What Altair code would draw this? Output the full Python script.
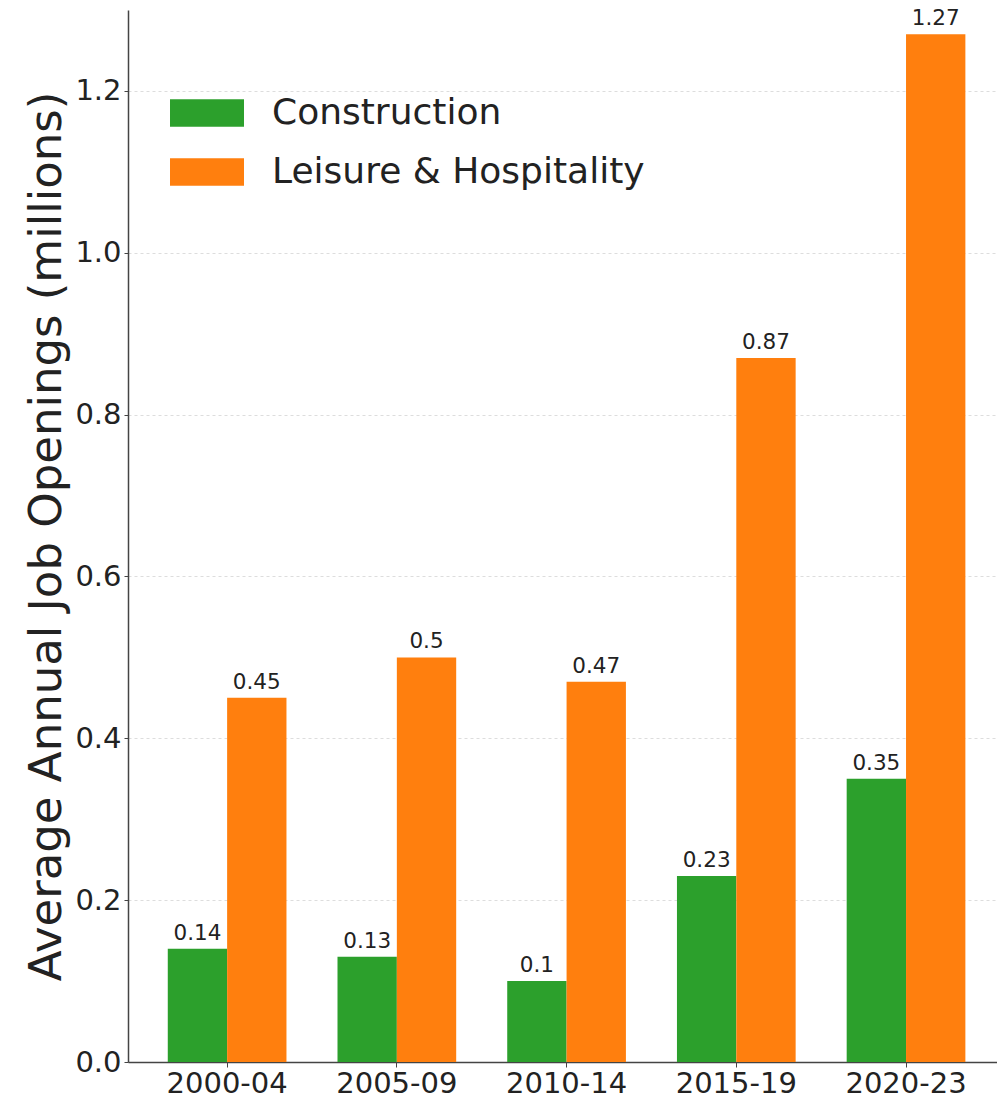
import altair as alt
import pandas as pd

# Average annual job openings (millions) by period
periods = ["2000-04", "2005-09", "2010-14", "2015-19", "2020-23"]
sectors = ["Construction", "Leisure & Hospitality"]
construction = [0.14, 0.13, 0.10, 0.23, 0.35]
leisure = [0.45, 0.50, 0.47, 0.87, 1.27]
colors = ["#2ca02c", "#ff7f0e"]
y_ticks = [0.0, 0.2, 0.4, 0.6, 0.8, 1.0, 1.2]

rows = []
for p, c, l in zip(periods, construction, leisure):
    rows.append({"period": p, "sector": sectors[0], "value": c})
    rows.append({"period": p, "sector": sectors[1], "value": l})
df = pd.DataFrame(rows)

FONT = "DejaVu Sans"

x_enc = alt.X(
    "period:N",
    sort=periods,
    title=None,
    scale=alt.Scale(paddingInner=0, paddingOuter=0.06, align=0.70),
    axis=alt.Axis(
        labelAngle=0,
        labelFontSize=29,
        labelFont=FONT,
        labelColor="#222",
        labelPadding=2,
        tickSize=5,
        tickColor="#444",
        domainColor="#444",
        domainWidth=1.5,
        grid=False,
    ),
)
xoff_enc = alt.XOffset(
    "sector:N", sort=sectors, scale=alt.Scale(paddingInner=0, paddingOuter=0.43)
)
y_enc = alt.Y(
    "value:Q",
    title="Average Annual Job Openings (millions)",
    scale=alt.Scale(domain=[0, 1.3], nice=False, zero=True),
    axis=alt.Axis(
        values=y_ticks,
        format=".1f",
        labelFontSize=29,
        labelFont=FONT,
        labelColor="#222",
        labelPadding=3,
        tickSize=4,
        tickColor="#444",
        domainColor="#444",
        domainWidth=1.5,
        titleFontSize=45,
        titleFont=FONT,
        titleFontWeight="normal",
        titleColor="#222",
        titlePadding=5,
        grid=True,
        gridColor="#dddddd",
        gridDash=[3, 3],
        gridWidth=1,
    ),
)

bars = (
    alt.Chart(df)
    .mark_bar()
    .encode(
        x=x_enc,
        xOffset=xoff_enc,
        y=y_enc,
        color=alt.Color(
            "sector:N",
            sort=sectors,
            scale=alt.Scale(domain=sectors, range=colors),
            legend=alt.Legend(
                title=None,
                orient="none",
                legendX=42,
                legendY=66,
                symbolType="M-1,-0.37H1V0.37H-1Z",
                symbolSize=5476,
                symbolStrokeWidth=0,
                symbolOpacity=1,
                labelFontSize=36,
                labelFont=FONT,
                labelColor="#222",
                labelLimit=0,
                labelOffset=28,
                rowPadding=4,
                padding=0,
            ),
        ),
    )
)

labels = (
    alt.Chart(df)
    .mark_text(baseline="bottom", dy=-4, fontSize=21.5, font=FONT, color="#222")
    .encode(
        x=alt.X("period:N", sort=periods),
        xOffset=alt.XOffset("sector:N", sort=sectors),
        y="value:Q",
        text=alt.Text("value:Q"),
    )
)

chart = (
    alt.layer(bars, labels)
    .properties(
        width=869,
        height=1052,
        autosize=alt.AutoSizeParams(type="none"),
        padding={"left": 128, "top": 10, "right": 0, "bottom": 36},
    )
    .configure(background="white")
    .configure_view(stroke=None)
)

chart.save("out.html", embed_options={"renderer": "svg", "actions": False})
